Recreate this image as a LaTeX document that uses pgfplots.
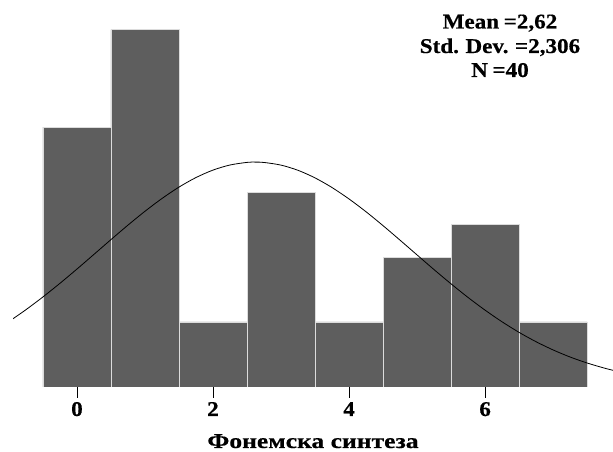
\documentclass[border=0pt]{standalone}
\usepackage{fontspec}
\setmainfont{Liberation Serif}[FakeStretch=1.1, WordSpace=0.8, BoldFeatures={FakeBold=0.5}]
\newfontfamily\titlefont{Liberation Serif}[FakeStretch=1.22, BoldFeatures={FakeBold=0.5}]
\usepackage{pgfplots}
\pgfplotsset{compat=1.18}
\definecolor{barfill}{HTML}{5E5E5E}
\definecolor{baredge}{HTML}{DCDCDC}
\begin{document}
\begin{tikzpicture}[x=1pt,y=1pt]
\useasboundingbox (0,0) rectangle (613,452);
\begin{axis}[
  at={(13pt,65pt)}, anchor=south west,
  scale only axis, width=600pt, height=387pt,
  xmin=-0.94, xmax=7.88, ymin=0, ymax=11.908,
  axis x line*=bottom, axis y line=none,
  x axis line style={draw=none},
  xtick={0,2,4,6}, ytick=\empty,
  tick align=outside, major tick length=11pt,
  xtick style={black, line width=0.8pt},
  /pgf/number format/assume math mode=true,
  xticklabel style={font=\bfseries\fontsize{21}{21}\selectfont, inner sep=0pt, anchor=base, yshift=-18pt},
  xlabel={Фонемска синтеза},
  xlabel style={font=\titlefont\bfseries\fontsize{21}{21}\selectfont, at={(axis description cs:0.5,0)}, anchor=base, yshift=-61pt},
  clip=true,
]
\addplot[ybar interval, fill=barfill, draw=baredge, line width=0.8pt] coordinates {
(-0.5,8) (0.5,11) (1.5,2) (2.5,6) (3.5,2) (4.5,4) (5.5,5) (6.5,2) (7.5,2)
};
\addplot[black, line width=0.8pt, smooth, no marks] coordinates {
(-0.94,2.101) (-0.75,2.378) (-0.5,2.771) (-0.25,3.190) (0,3.629) (0.25,4.081)
(0.5,4.535) (0.75,4.981) (1.0,5.407) (1.25,5.800) (1.5,6.151) (1.75,6.445)
(2.0,6.674) (2.25,6.831) (2.5,6.911) (2.62,6.920) (2.75,6.909) (3.0,6.827)
(3.25,6.667) (3.5,6.434) (3.75,6.137) (4.0,5.785) (4.25,5.391) (4.5,4.964)
(4.75,4.517) (5.0,4.063) (5.25,3.611) (5.5,3.173) (5.75,2.754) (6.0,2.364)
(6.25,2.005) (6.5,1.680) (6.75,1.392) (7.0,1.140) (7.25,0.922) (7.5,0.738)
(7.75,0.583) (7.88,0.513)
};
\end{axis}
\begin{scope}[every node/.style={font=\bfseries\fontsize{21}{21}\selectfont, anchor=base, inner sep=0pt}]
\node at (500,423.5) {Mean =2,62};
\node at (500,399) {Std. Dev. =2,306};
\node at (500,375) {N =40};
\end{scope}
\end{tikzpicture}
\end{document}
